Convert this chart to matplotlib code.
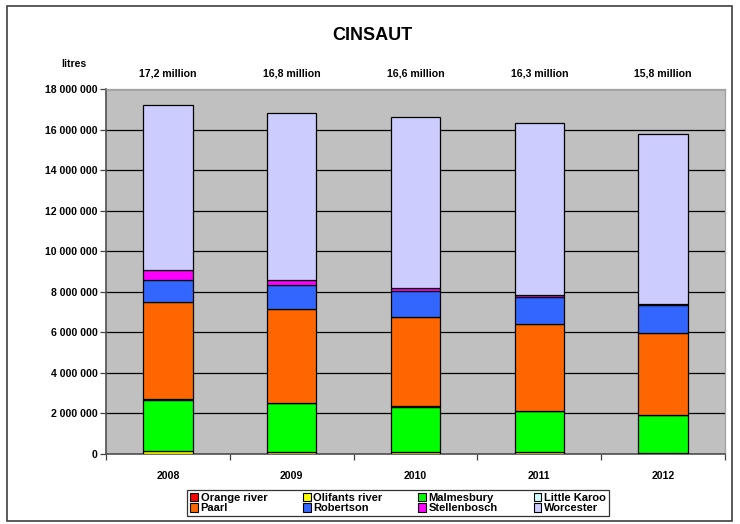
import matplotlib
matplotlib.use("Agg")
import matplotlib.pyplot as plt
from matplotlib.patches import Rectangle, Patch
from matplotlib.ticker import FuncFormatter, MultipleLocator
from matplotlib import font_manager
import numpy as np

years = ["2008", "2009", "2010", "2011", "2012"]
totals_labels = ["17,2 million", "16,8 million", "16,6 million", "16,3 million", "15,8 million"]
series_names = ["Orange river", "Olifants river", "Malmesbury", "Little Karoo",
                "Paarl", "Robertson", "Stellenbosch", "Worcester"]
orange_river = [20000, 20000, 10000, 10000, 10000]
olifants_river = [110000, 90000, 70000, 70000, 50000]
malmesbury = [2550000, 2390000, 2260000, 2040000, 1870000]
little_karoo = [10000, 10000, 10000, 10000, 10000]
paarl = [4810000, 4620000, 4420000, 4260000, 4050000]
robertson = [1060000, 1180000, 1280000, 1330000, 1370000]
stellenbosch = [490000, 250000, 160000, 120000, 60000]
worcester = [8150000, 8240000, 8390000, 8460000, 8380000]
colors = ["#FF0000", "#FFFF00", "#00FF00", "#CCFFFF",
          "#FF6600", "#3366FF", "#FF00FF", "#CCCCFF"]

series = [orange_river, olifants_river, malmesbury, little_karoo,
          paarl, robertson, stellenbosch, worcester]

names = {f.name for f in font_manager.fontManager.ttflist}
NARROW = "Liberation Sans Narrow" if "Liberation Sans Narrow" in names else None

plt.rcParams['font.family'] = ['Liberation Sans', 'DejaVu Sans']
plt.rcParams['font.weight'] = 'bold'
if NARROW:
    nfam = [NARROW, 'Liberation Sans', 'DejaVu Sans']
    small = 9.2
else:
    nfam = ['Liberation Sans', 'DejaVu Sans']
    small = 7.6

fig = plt.figure(figsize=(7.40, 5.24), dpi=100)
ax = fig.add_axes([106/740, 1-454/524, 619/740, 365/524])
ax.set_facecolor("#C0C0C0")

x = np.arange(len(years))
bottom = np.zeros(len(years))
for name, vals, c in zip(series_names, series, colors):
    v = np.array(vals, dtype=float)
    ax.bar(x, v, width=0.40, bottom=bottom, color=c, edgecolor="black",
           linewidth=0.9, label=name, zorder=3)
    bottom += v

ax.set_xlim(-0.5, 4.5)
ax.set_ylim(0, 18000000)
ax.yaxis.set_major_locator(MultipleLocator(2000000))
ax.yaxis.set_major_formatter(FuncFormatter(lambda v, p: f"{int(v):,}".replace(",", " ")))
ax.grid(axis="y", color="black", linewidth=0.9, zorder=1)
ax.set_xticks(x)
ax.set_xticklabels(years)
ax.set_xticks(np.arange(-0.5, 5.0, 1.0), minor=True)
ax.tick_params(axis="x", which="major", length=0, pad=12)
ax.tick_params(axis="x", which="minor", length=4, width=0.9, color="#404040")
ax.tick_params(axis="y", length=4, width=0.9, color="#404040", pad=2)
for lab in ax.get_xticklabels() + ax.get_yticklabels():
    lab.set_fontweight("bold")
    lab.set_family(nfam)
    lab.set_fontsize(small)

for s in ["top", "right"]:
    ax.spines[s].set_color("#A0A0A0")
    ax.spines[s].set_linewidth(0.9)
for s in ["left", "bottom"]:
    ax.spines[s].set_color("#505050")
    ax.spines[s].set_linewidth(1.2)

# title and annotations
fig.text(372/740, 1-35/524, "CINSAUT", ha="center", va="center",
         fontsize=13, fontweight="bold")
fig.text(74/740, 1-64/524, "litres", ha="center", va="center",
         fontsize=small, fontweight="bold", family=nfam)
for i, t in enumerate(totals_labels):
    xf = ax.transData.transform((x[i], 0))[0] / fig.bbox.width
    fig.text(xf, 1-73/524, t, ha="center", va="center", fontsize=small,
             fontweight="bold", family=nfam)

# legend: row 1 first four, row 2 last four -> reorder for column-wise fill
order = [0, 4, 1, 5, 2, 6, 3, 7]
handles = [Patch(facecolor=colors[i], edgecolor="black", linewidth=0.8) for i in order]
labels = [series_names[i] for i in order]
leg = fig.legend(handles, labels, ncol=4, loc="center",
                 bbox_to_anchor=(398/740, 1-503/524),
                 frameon=True, fancybox=False, edgecolor="black",
                 handlelength=0.7, handleheight=0.8,
                 handletextpad=0.25, columnspacing=3.6 if NARROW else 3.2,
                 labelspacing=0.0, borderpad=0.3,
                 prop={"weight": "bold", "size": 10.2 if NARROW else 8,
                       "family": nfam})
leg.get_frame().set_linewidth(0.9)

# outer frame
fig.patches.append(Rectangle((7/740, 1-521/524), 725/740, 515/524,
                             transform=fig.transFigure, fill=False,
                             edgecolor="#404040", linewidth=1.2))

fig.savefig("out.png", dpi=100)
